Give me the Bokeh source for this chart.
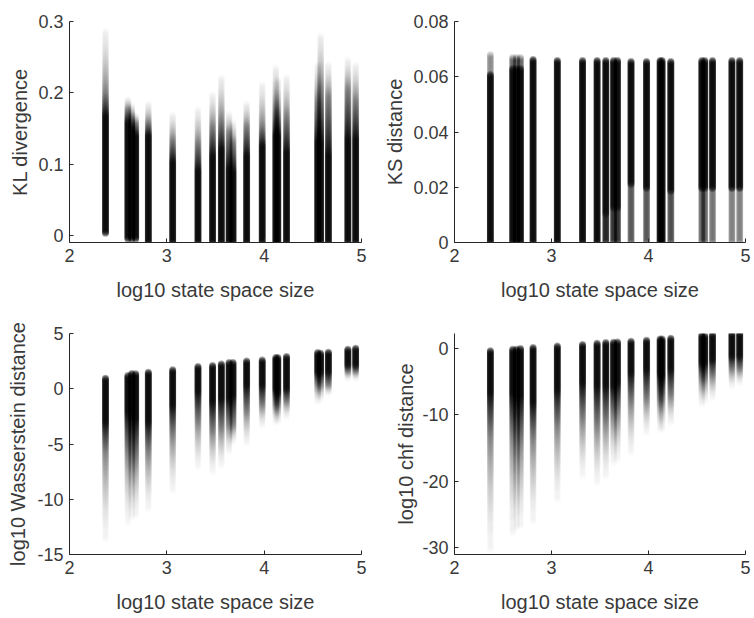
import numpy as np
from bokeh.plotting import figure
from bokeh.layouts import gridplot
from bokeh.models import Range1d, FixedTicker, ColumnDataSource
from bokeh.embed import file_html
from bokeh.resources import INLINE

# ---------------- data ----------------
state_space_log10 = [2.37, 2.60, 2.64, 2.68, 2.81, 3.06, 3.32, 3.47, 3.56, 3.64, 3.68,
                     3.82, 3.98, 4.12, 4.14, 4.23, 4.55, 4.58, 4.66, 4.86, 4.94]

# KL divergence: dense from kl_bottom up to kl_solid, half density at kl_half, sparse up to kl_top
kl_bottom = [0.003, -0.005, -0.005, -0.005, -0.01, -0.01, -0.01, -0.01, -0.01, -0.01, -0.01,
             -0.01, -0.01, -0.01, -0.01, -0.01, -0.01, -0.01, -0.01, -0.01, -0.01]
kl_solid = [0.168, 0.159, 0.150, 0.140, 0.140, 0.103, 0.091, 0.112, 0.121, 0.093, 0.089,
            0.112, 0.126, 0.140, 0.140, 0.117, 0.131, 0.131, 0.112, 0.135, 0.135]
kl_half = [0.201, 0.178, 0.168, 0.159, 0.159, 0.135, 0.131, 0.154, 0.163, 0.145, 0.131,
           0.154, 0.154, 0.182, 0.173, 0.168, 0.191, 0.210, 0.196, 0.206, 0.191]
kl_top = [0.286, 0.192, 0.183, 0.169, 0.185, 0.169, 0.176, 0.197, 0.222, 0.171, 0.159,
          0.185, 0.211, 0.236, 0.219, 0.222, 0.239, 0.281, 0.239, 0.246, 0.239]

# KS distance: from 0 to ks_split shade ks_low, dense up to ks_full_to, cap shade up to ks_top
ks_top = [0.0681, 0.0671, 0.0671, 0.0671, 0.0663, 0.0659, 0.0659, 0.0659, 0.0659, 0.0659, 0.0659,
          0.0655, 0.0655, 0.0659, 0.0659, 0.0655, 0.0659, 0.0659, 0.0659, 0.0659, 0.0659]
ks_full_to = [0.0610, 0.0632, 0.0632, 0.0632, 0.0663, 0.0659, 0.0659, 0.0659, 0.0659, 0.0659, 0.0659,
              0.0655, 0.0655, 0.0659, 0.0659, 0.0655, 0.0659, 0.0659, 0.0659, 0.0659, 0.0659]
ks_cap = [0.45, 0.6, 0.6, 0.6, 0.95, 0.9, 0.95, 0.95, 0.95, 0.95, 0.95,
          0.95, 0.95, 0.95, 0.95, 0.95, 0.95, 0.95, 0.95, 0.95, 0.95]
ks_split = [0.0, 0.0, 0.0, 0.0, 0.0, 0.0, 0.0, 0.0, 0.010, 0.012, 0.012,
            0.0207, 0.0195, 0.0, 0.0, 0.0183, 0.0195, 0.0195, 0.0195, 0.0195, 0.0195]
ks_low = [0.95, 0.95, 0.95, 0.95, 0.95, 0.95, 0.95, 0.95, 0.85, 0.8, 0.8,
          0.65, 0.65, 0.95, 0.95, 0.7, 0.6, 0.6, 0.55, 0.5, 0.5]

# log10 Wasserstein distance: dense from ws_top down to ws_solid, half at ws_half, faint to ws_bottom
ws_top = [0.99, 1.23, 1.38, 1.38, 1.47, 1.68, 1.98, 2.13, 2.29, 2.35, 2.38,
          2.50, 2.65, 2.80, 2.83, 2.89, 3.25, 3.25, 3.34, 3.55, 3.64]
ws_solid = [-3.02, -2.12, -2.42, -2.72, -3.02, -1.52, -0.31, -1.21, -0.91, -0.91, -0.61,
            0.29, 0.29, -0.01, -0.31, -0.01, 1.50, 1.50, 1.50, 2.10, 2.10]
ws_half = [-5.74, -5.74, -6.34, -6.34, -5.74, -4.23, -3.02, -3.93, -3.63, -3.33, -3.33,
           -2.12, -1.52, -1.52, -1.52, -1.21, 0.29, 0.29, 0.29, 1.50, 1.50]
ws_bottom = [-13.61, -12.10, -11.65, -11.50, -10.90, -9.24, -7.13, -7.58, -6.98, -5.77, -4.86,
             -5.01, -3.36, -3.05, -3.05, -2.60, -1.24, -0.94, -0.49, 0.87, 0.87]

# log10 chf distance
chf_top = [-0.45, -0.10, -0.10, -0.10, 0.05, 0.40, 0.55, 0.80, 0.80, 0.95, 0.95,
           1.05, 1.20, 1.40, 1.40, 1.45, 1.90, 1.90, 2.00, 2.15, 2.20]
chf_solid = [-6.75, -6.75, -7.25, -7.25, -8.25, -6.25, -5.25, -5.75, -5.75, -5.75, -5.25,
             -3.75, -3.25, -3.75, -4.25, -3.25, -2.25, -2.25, -1.75, -1.25, -1.25]
chf_half = [-13.25, -13.25, -14.25, -14.25, -13.75, -11.75, -10.75, -11.75, -11.25, -10.25, -9.75,
            -8.25, -7.75, -7.75, -7.75, -7.25, -4.75, -4.75, -4.25, -3.25, -3.25]
chf_bottom = [-30.3, -27.8, -27.05, -26.8, -26.05, -22.8, -19.3, -20.3, -19.3, -17.3, -16.8,
              -15.8, -12.8, -12.3, -12.3, -11.3, -8.55, -8.05, -7.55, -5.8, -5.3]

x_ticks = [2, 3, 4, 5]
x_label = "log10 state space size"
kl_ticks = [0, 0.1, 0.2, 0.3]
kl_tick_labels = ["0", "0.1", "0.2", "0.3"]
ks_ticks = [0, 0.02, 0.04, 0.06, 0.08]
ks_tick_labels = ["0", "0.02", "0.04", "0.06", "0.08"]
ws_ticks = [-15, -10, -5, 0, 5]
ws_tick_labels = ["-15", "-10", "-5", "0", "5"]
chf_ticks = [-30, -20, -10, 0]
chf_tick_labels = ["-30", "-20", "-10", "0"]

# ---------------- rendering helpers ----------------
DIAM = 7.0
SOLID = 0.95
FONT = "Liberation Sans"
TXT = "#3a3a3a"
LINE = "#262626"


def to_alpha(t, step_px):
    t = np.clip(t, 0.0, 0.999)
    return 1.0 - (1.0 - t) ** (step_px / DIAM)


def fade(ys, y_far, y_half, t_far, t_half=0.5):
    u = np.clip((ys - y_far) / (y_half - y_far), 0.0, 1.0)
    return t_far + (t_half - t_far) * u ** 1.7


def tail_columns(xs, lo, solid, half, hi, dense_top, dy):
    X, Y, A = [], [], []
    for i, x in enumerate(xs):
        ys = np.arange(lo[i], hi[i] + dy * 0.5, dy)
        if dense_top:   # dense at top, fading downward
            t = np.where(ys >= solid[i], SOLID,
                         np.where(ys >= half[i],
                                  0.5 + (SOLID - 0.5) * (ys - half[i]) / (solid[i] - half[i]),
                                  fade(ys, lo[i], half[i], 0.05)))
        else:           # dense at bottom, fading upward
            t = np.where(ys <= solid[i], SOLID,
                         np.where(ys <= half[i],
                                  0.5 + (SOLID - 0.5) * (half[i] - ys) / (half[i] - solid[i]),
                                  fade(ys, hi[i], half[i], 0.08)))
        X.extend([x] * len(ys))
        Y.extend(ys.tolist())
        A.extend(to_alpha(t, 1.0).tolist())
    return ColumnDataSource(dict(x=X, y=Y, a=A))


def ks_columns(xs, dy):
    X, Y, A = [], [], []
    for i, x in enumerate(xs):
        ys = np.arange(0.0, ks_top[i] + dy * 0.5, dy)
        t = np.where(ys <= ks_split[i], ks_low[i],
                     np.where(ys <= ks_full_to[i], SOLID, ks_cap[i]))
        X.extend([x] * len(ys))
        Y.extend(ys.tolist())
        A.extend(to_alpha(t, 1.0).tolist())
    return ColumnDataSource(dict(x=X, y=Y, a=A))


def make_fig(width, height, b_left, b_right, b_top, b_bottom, yr, yticks, ylabels, ylabel,
             ylabel_standoff):
    p = figure(width=width, height=height, x_range=Range1d(2, 5), y_range=Range1d(*yr),
               output_backend="svg", toolbar_location=None,
               min_border_left=b_left, min_border_right=b_right,
               min_border_top=b_top, min_border_bottom=b_bottom)
    p.outline_line_color = None
    p.grid.visible = False
    p.background_fill_color = "white"
    p.border_fill_color = "white"
    for ax in (p.xaxis[0], p.yaxis[0]):
        ax.axis_line_color = LINE
        ax.axis_line_width = 1
        ax.major_tick_in = 4
        ax.major_tick_out = 0
        ax.major_tick_line_color = LINE
        ax.minor_tick_line_color = None
        ax.major_label_text_font = FONT
        ax.major_label_text_font_size = "18px"
        ax.major_label_text_color = TXT
        ax.axis_label_text_font = FONT
        ax.axis_label_text_font_size = "20px"
        ax.axis_label_text_font_style = "normal"
        ax.axis_label_text_color = TXT
    p.xaxis.ticker = FixedTicker(ticks=x_ticks)
    p.xaxis.major_label_overrides = {t: str(t) for t in x_ticks}
    p.xaxis.axis_label = x_label
    p.xaxis.major_label_standoff = 6
    p.xaxis.axis_label_standoff = 14
    p.yaxis.ticker = FixedTicker(ticks=yticks)
    p.yaxis.major_label_overrides = dict(zip(yticks, ylabels))
    p.yaxis.axis_label = ylabel
    p.yaxis.major_label_standoff = 6
    p.yaxis.axis_label_standoff = ylabel_standoff
    return p


W1, W2 = 377, 377
H1, H2 = 309, 309

p1 = make_fig(W1, H1, 69, 16, 21, 67, (-0.01, 0.3), kl_ticks, kl_tick_labels, "KL divergence", 4)
p2 = make_fig(W2, H1, 77, 9, 21, 67, (0, 0.08), ks_ticks, ks_tick_labels, "KS distance", 4)
p3 = make_fig(W1, H2, 69, 16, 24, 64, (-15, 5), ws_ticks, ws_tick_labels,
              "log10 Wasserstein distance", 5)
p4 = make_fig(W2, H2, 77, 9, 24, 64, (-31, 2.2), chf_ticks, chf_tick_labels,
              "log10 chf distance", 2)

src1 = tail_columns(state_space_log10, kl_bottom, kl_solid, kl_half, kl_top, False, 0.31 / 221)
src2 = ks_columns(state_space_log10, 0.08 / 221)
src3 = tail_columns(state_space_log10, ws_bottom, ws_solid, ws_half, ws_top, True, 20.0 / 221)
src4 = tail_columns(state_space_log10, chf_bottom, chf_solid, chf_half, chf_top, True, 33.2 / 221)

for p, s in ((p1, src1), (p2, src2), (p3, src3), (p4, src4)):
    p.scatter(x="x", y="y", source=s, marker="circle", size=DIAM,
              fill_color="black", fill_alpha="a", line_color=None)

grid = gridplot([[p1, p2], [p3, p4]], toolbar_location=None)

open("out.html", "w").write(file_html(grid, INLINE))
